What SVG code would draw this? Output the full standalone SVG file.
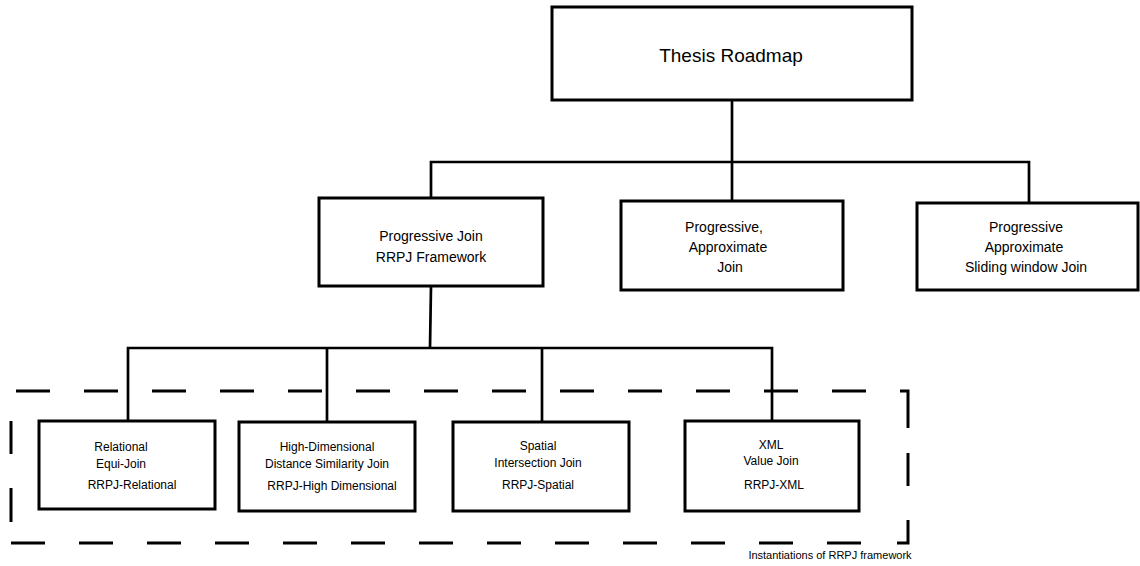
<svg xmlns="http://www.w3.org/2000/svg" width="1140" height="566" viewBox="0 0 1140 566">
<style>
.box{fill:#fff;stroke:#000;stroke-width:3}
.con{fill:none;stroke:#000;stroke-width:2.7}
.dash{fill:none;stroke:#000;stroke-width:3}
text{font-family:"Liberation Sans",Arial,sans-serif;fill:#000;text-anchor:middle}
.t19{font-size:19px}
.t14{font-size:14px}
.t12{font-size:12px}
.t11{font-size:11px}
</style>
<rect width="1140" height="566" fill="#fff"/>
<g id="connectors">
<path class="con" d="M732 100 V201"/>
<path class="con" d="M431 198 V162 H1029 V203"/>
<path class="con" d="M431 286 L430 348"/>
<path class="con" d="M128 421 V348 H772 V421"/>
<path class="con" d="M327 348 V422"/>
<path class="con" d="M542 348 V422"/>
</g>
<g id="frame">
<path class="dash" d="M16 391 H900" stroke-dasharray="34 34"/>
<path class="dash" d="M900 391 H908 V428"/>
<path class="dash" d="M908 453 V486"/>
<path class="dash" d="M908 520 V543 H897"/>
<path class="dash" d="M11 543 H870" stroke-dasharray="34 34"/>
<path class="dash" d="M11 421 V454 M11 488 V522"/>
<text class="t11" x="830" y="559">Instantiations of RRPJ framework</text>
</g>
<g id="thesis">
<rect class="box" x="552" y="7" width="360" height="93"/>
<text class="t19" x="731" y="62">Thesis Roadmap</text>
</g>
<g id="progressive-join">
<rect class="box" x="319" y="198" width="224" height="88"/>
<text class="t14" x="431" y="241">Progressive Join</text>
<text class="t14" x="431" y="262">RRPJ Framework</text>
</g>
<g id="progressive-approx">
<rect class="box" x="621" y="201" width="222" height="89"/>
<text class="t14" x="724" y="232">Progressive,</text>
<text class="t14" x="728" y="252">Approximate</text>
<text class="t14" x="730" y="272">Join</text>
</g>
<g id="sliding-window">
<rect class="box" x="917" y="203" width="221" height="87"/>
<text class="t14" x="1026" y="232">Progressive</text>
<text class="t14" x="1024" y="252">Approximate</text>
<text class="t14" x="1026" y="272">Sliding window Join</text>
</g>
<g id="relational">
<rect class="box" x="39" y="421" width="176" height="88"/>
<text class="t12" x="121" y="451">Relational</text>
<text class="t12" x="121" y="468">Equi-Join</text>
<text class="t12" x="132" y="489">RRPJ-Relational</text>
</g>
<g id="high-dimensional">
<rect class="box" x="239" y="422" width="176" height="89"/>
<text class="t12" x="327" y="451">High-Dimensional</text>
<text class="t12" x="327" y="468">Distance Similarity Join</text>
<text class="t12" x="332" y="490">RRPJ-High Dimensional</text>
</g>
<g id="spatial">
<rect class="box" x="453" y="422" width="176" height="89"/>
<text class="t12" x="538" y="450">Spatial</text>
<text class="t12" x="538" y="467">Intersection Join</text>
<text class="t12" x="538" y="489">RRPJ-Spatial</text>
</g>
<g id="xml">
<rect class="box" x="685" y="421" width="174" height="90"/>
<text class="t12" x="771" y="449">XML</text>
<text class="t12" x="771" y="465">Value Join</text>
<text class="t12" x="774" y="489">RRPJ-XML</text>
</g>
</svg>
